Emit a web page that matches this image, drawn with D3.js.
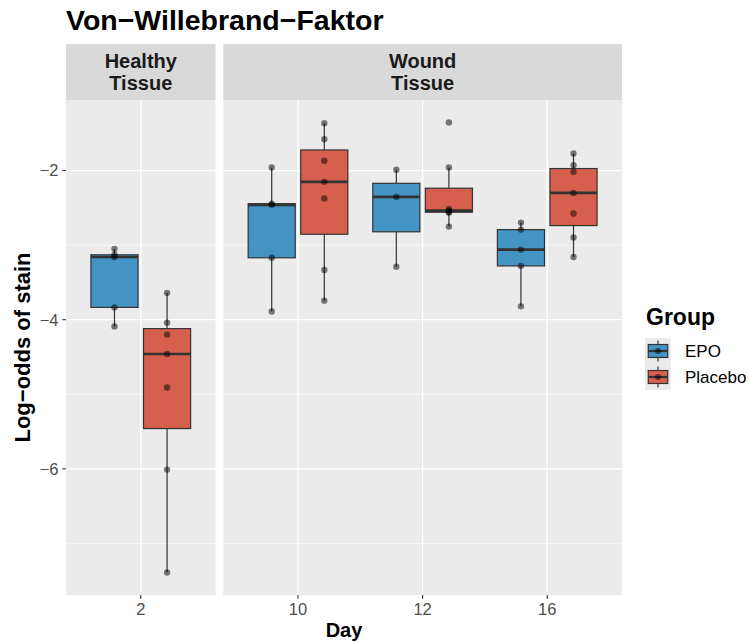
<!DOCTYPE html>
<html>
<head>
<meta charset="utf-8">
<script src="https://cdn.jsdelivr.net/npm/d3@7"></script>
<style>
  body { margin: 0; background: #fff; }
  text { font-family: "Liberation Sans", Arial, Helvetica, sans-serif; }
</style>
</head>
<body>
<svg id="chart" width="749" height="642"></svg>
<script>
// ---- data -------------------------------------------------------------
const groups = ["EPO", "Placebo"];
const groupColors = ["#4393c3", "#d6604d"];
const healthyDays = ["2"];
const woundDays = ["10", "12", "16"];
const panelLabels = [["Healthy", "Tissue"], ["Wound", "Tissue"]];
const yTickValues = [-2, -4, -6];
const yMinorValues = [-3, -5, -7];

// log-odds of stain per animal, by group and day
const epoDay2 = [-4.09, -3.835, -3.16, -3.13, -3.05];
const placeboDay2 = [-7.39, -6.01, -4.91, -4.46, -4.20, -4.04, -3.64];
const epoDay10 = [-3.89, -3.17, -2.46, -2.445, -1.96];
const placeboDay10 = [-3.745, -3.333, -2.376, -2.152, -1.869, -1.58, -1.365];
const epoDay12 = [-3.29, -2.353, -1.99];
const placeboDay12 = [-2.752, -2.562, -2.556, -2.537, -2.514, -1.96, -1.356];
const epoDay16 = [-3.821, -3.279, -3.06, -2.792, -2.698];
const placeboDay16 = [-3.159, -2.899, -2.577, -2.30, -2.018, -1.929, -1.772];

const series = [
  { panel: 0, day: "2",  group: 0, values: epoDay2 },
  { panel: 0, day: "2",  group: 1, values: placeboDay2 },
  { panel: 1, day: "10", group: 0, values: epoDay10 },
  { panel: 1, day: "10", group: 1, values: placeboDay10 },
  { panel: 1, day: "12", group: 0, values: epoDay12 },
  { panel: 1, day: "12", group: 1, values: placeboDay12 },
  { panel: 1, day: "16", group: 0, values: epoDay16 },
  { panel: 1, day: "16", group: 1, values: placeboDay16 }
];

// ---- box statistics (type-7 quantiles, 1.5 IQR whiskers) ----------------
series.forEach(s => {
  const v = s.values.slice().sort(d3.ascending);
  s.q1 = d3.quantile(v, 0.25);
  s.med = d3.quantile(v, 0.5);
  s.q3 = d3.quantile(v, 0.75);
  const iqr = s.q3 - s.q1;
  s.lo = d3.min(v.filter(d => d >= s.q1 - 1.5 * iqr));
  s.hi = d3.max(v.filter(d => d <= s.q3 + 1.5 * iqr));
});

// ---- layout -------------------------------------------------------------
const svg = d3.select("#chart");
const plotL = 66, plotR = 622, panelGap = 7.7;
const plotT = 100, plotB = 595;
const stripT = 44;
const panelDays = [healthyDays, woundDays];
const unitTotal = d3.sum(panelDays, d => d.length + 0.2);
const unitPx = (plotR - plotL - panelGap) / unitTotal;

let cursor = plotL;
const panels = panelDays.map((days, i) => {
  const w = (days.length + 0.2) * unitPx;
  const p = {
    days,
    x0: cursor,
    x1: cursor + w,
    x: d3.scaleLinear().domain([0.4, days.length + 0.6]).range([cursor, cursor + w]),
    labels: panelLabels[i]
  };
  cursor += w + panelGap;
  return p;
});

const allValues = series.flatMap(s => s.values);
const [vMin, vMax] = d3.extent(allValues);
const pad = (vMax - vMin) * 0.05;
const y = d3.scaleLinear().domain([vMin - pad, vMax + pad]).range([plotB, plotT]);

const dodge = 0.211, halfBox = 0.189;

// ---- panels -------------------------------------------------------------
panels.forEach(p => {
  const g = svg.append("g");
  g.append("rect")
    .attr("x", p.x0).attr("y", plotT)
    .attr("width", p.x1 - p.x0).attr("height", plotB - plotT)
    .attr("fill", "#EBEBEB");

  g.selectAll(".minor").data(yMinorValues.filter(v => v > y.domain()[0] && v < y.domain()[1]))
    .enter().append("line")
    .attr("x1", p.x0).attr("x2", p.x1)
    .attr("y1", d => y(d)).attr("y2", d => y(d))
    .attr("stroke", "#fff").attr("stroke-width", 0.6);

  g.selectAll(".major").data(yTickValues)
    .enter().append("line")
    .attr("x1", p.x0).attr("x2", p.x1)
    .attr("y1", d => y(d)).attr("y2", d => y(d))
    .attr("stroke", "#fff").attr("stroke-width", 1.2);

  g.selectAll(".vmajor").data(p.days)
    .enter().append("line")
    .attr("x1", (d, i) => p.x(i + 1)).attr("x2", (d, i) => p.x(i + 1))
    .attr("y1", plotT).attr("y2", plotB)
    .attr("stroke", "#fff").attr("stroke-width", 1.2);

  // strip
  svg.append("rect")
    .attr("x", p.x0).attr("y", stripT)
    .attr("width", p.x1 - p.x0).attr("height", plotT - stripT)
    .attr("fill", "#D9D9D9");
  const st = svg.append("text")
    .attr("x", (p.x0 + p.x1) / 2)
    .attr("text-anchor", "middle")
    .attr("font-size", 20).attr("font-weight", "bold").attr("fill", "#1A1A1A");
  st.append("tspan").attr("x", (p.x0 + p.x1) / 2).attr("y", 67.5).text(p.labels[0]);
  st.append("tspan").attr("x", (p.x0 + p.x1) / 2).attr("y", 90).text(p.labels[1]);

  // x axis ticks and labels
  const xa = svg.append("g");
  xa.selectAll("line").data(p.days).enter().append("line")
    .attr("x1", (d, i) => p.x(i + 1)).attr("x2", (d, i) => p.x(i + 1))
    .attr("y1", plotB).attr("y2", plotB + 3.7)
    .attr("stroke", "#333").attr("stroke-width", 1.1);
  xa.selectAll("text").data(p.days).enter().append("text")
    .attr("x", (d, i) => p.x(i + 1)).attr("y", 614.5)
    .attr("text-anchor", "middle")
    .attr("font-size", 16.5).attr("fill", "#4D4D4D")
    .text(d => d);
});

// ---- boxes --------------------------------------------------------------
const boxCx = s => {
  const p = panels[s.panel];
  return p.x(p.days.indexOf(s.day) + 1) + (s.group === 0 ? -dodge : dodge) * unitPx;
};

const boxes = svg.append("g").selectAll("g").data(series).enter().append("g");
boxes.append("line")
  .attr("x1", boxCx).attr("x2", boxCx)
  .attr("y1", d => y(d.q3)).attr("y2", d => y(d.hi))
  .attr("stroke", "#333").attr("stroke-width", 1.2);
boxes.append("line")
  .attr("x1", boxCx).attr("x2", boxCx)
  .attr("y1", d => y(d.q1)).attr("y2", d => y(d.lo))
  .attr("stroke", "#333").attr("stroke-width", 1.2);
boxes.append("rect")
  .attr("x", d => boxCx(d) - halfBox * unitPx)
  .attr("width", 2 * halfBox * unitPx)
  .attr("y", d => y(d.q3))
  .attr("height", d => y(d.q1) - y(d.q3))
  .attr("fill", d => groupColors[d.group])
  .attr("stroke", "#333").attr("stroke-width", 1.2);
boxes.append("line")
  .attr("x1", d => boxCx(d) - halfBox * unitPx)
  .attr("x2", d => boxCx(d) + halfBox * unitPx)
  .attr("y1", d => y(d.med)).attr("y2", d => y(d.med))
  .attr("stroke", "#333").attr("stroke-width", 2.6);

// ---- individual observations -------------------------------------------
const pts = series.flatMap(s => s.values.map(v => ({ cx: boxCx(s), v })));
svg.append("g").selectAll("circle").data(pts).enter().append("circle")
  .attr("cx", d => d.cx).attr("cy", d => y(d.v)).attr("r", 3.2)
  .attr("fill", "#000").attr("fill-opacity", 0.5);

// ---- y axis -------------------------------------------------------------
const ya = svg.append("g");
ya.selectAll("line").data(yTickValues).enter().append("line")
  .attr("x1", plotL - 3.7).attr("x2", plotL)
  .attr("y1", d => y(d)).attr("y2", d => y(d))
  .attr("stroke", "#333").attr("stroke-width", 1.1);
ya.selectAll("text").data(yTickValues).enter().append("text")
  .attr("x", plotL - 7.5).attr("y", d => y(d)).attr("dy", "0.36em")
  .attr("text-anchor", "end").attr("font-size", 16.5).attr("fill", "#4D4D4D")
  .text(d => d3.format("d")(d).replace("-", "\u2212"));

// ---- titles -------------------------------------------------------------
svg.append("text")
  .attr("x", 66).attr("y", 30)
  .attr("font-size", 28.5).attr("font-weight", "bold").attr("fill", "#000")
  .text("Von\u2212Willebrand\u2212Faktor");

svg.append("text")
  .attr("x", (plotL + plotR) / 2).attr("y", 636.5)
  .attr("text-anchor", "middle")
  .attr("font-size", 20).attr("font-weight", "bold").attr("fill", "#000")
  .text("Day");

svg.append("text")
  .attr("transform", `translate(30,${(plotT + plotB) / 2}) rotate(-90)`)
  .attr("text-anchor", "middle")
  .attr("font-size", 22).attr("font-weight", "bold").attr("fill", "#000")
  .text("Log\u2212odds of stain");

// ---- legend -------------------------------------------------------------
const lg = svg.append("g").attr("transform", "translate(645,0)");
lg.append("text")
  .attr("x", 1).attr("y", 325)
  .attr("font-size", 23).attr("font-weight", "bold").attr("fill", "#000")
  .text("Group");
const keySize = 26, keyTop = 338;
const keys = lg.selectAll(".key").data(groups).enter().append("g")
  .attr("transform", (d, i) => `translate(0,${keyTop + i * keySize})`);
keys.append("rect")
  .attr("width", keySize).attr("height", keySize).attr("fill", "#EBEBEB");
keys.append("line")
  .attr("x1", keySize / 2).attr("x2", keySize / 2)
  .attr("y1", keySize * 0.1).attr("y2", keySize * 0.9)
  .attr("stroke", "#333").attr("stroke-width", 1.2);
keys.append("rect")
  .attr("x", keySize * 0.125).attr("y", keySize * 0.25)
  .attr("width", keySize * 0.75).attr("height", keySize * 0.5)
  .attr("fill", (d, i) => groupColors[i])
  .attr("stroke", "#333").attr("stroke-width", 1.2);
keys.append("line")
  .attr("x1", keySize * 0.125).attr("x2", keySize * 0.875)
  .attr("y1", keySize / 2).attr("y2", keySize / 2)
  .attr("stroke", "#333").attr("stroke-width", 2.2);
keys.append("circle")
  .attr("cx", keySize / 2).attr("cy", keySize / 2).attr("r", 3)
  .attr("fill", "#000").attr("fill-opacity", 0.5);
keys.append("text")
  .attr("x", 40).attr("y", keySize / 2).attr("dy", "0.36em")
  .attr("font-size", 17).attr("fill", "#000")
  .text(d => d);
</script>
</body>
</html>
